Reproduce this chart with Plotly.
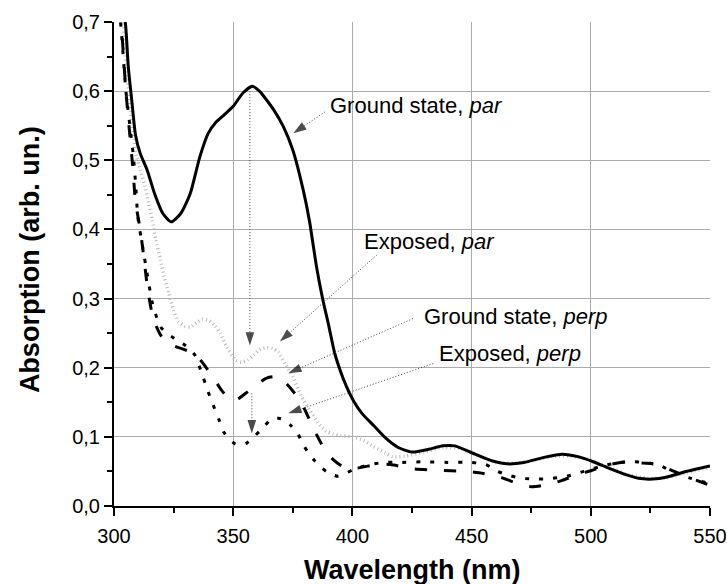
import plotly.graph_objects as go

# ---------------- data ----------------
gs_par_x = [303, 305, 306, 307.5, 309, 311, 314, 317, 320.5, 324, 328, 332, 336, 339.5, 342.5, 346, 350, 354,
            358, 361, 367, 371, 375, 379.5, 382, 385, 387.5, 390, 392.5, 395, 397.5, 400.5, 404, 409, 414, 419,
            425, 432, 438, 443, 450, 458, 465, 472, 480, 488, 495, 501, 508, 515, 520, 526, 532, 540, 550]
gs_par_y = [0.76, 0.69, 0.635, 0.585, 0.537, 0.51, 0.485, 0.452, 0.423, 0.411, 0.423, 0.452, 0.505, 0.539, 0.554,
            0.565, 0.578, 0.597, 0.607, 0.600, 0.573, 0.549, 0.515, 0.455, 0.412, 0.345, 0.300, 0.262, 0.222,
            0.195, 0.173, 0.152, 0.134, 0.116, 0.098, 0.085, 0.078, 0.082, 0.087, 0.087, 0.077, 0.066, 0.061,
            0.063, 0.07, 0.075, 0.071, 0.064, 0.054, 0.045, 0.04, 0.039, 0.042, 0.05, 0.058]

ex_par_x = [303, 306, 309.5, 311, 313, 314.5, 316, 317.5, 319.5, 321, 323, 325, 327, 329.5, 332, 335, 337, 340,
            342.5, 344.5, 347.3, 351, 353.5, 356, 358.5, 361, 364, 366.5, 369, 371.7, 375, 377.3, 379.5, 382,
            385.7, 389, 392, 395, 400, 404.6, 408.8, 413.7, 417, 422, 430, 438, 445, 452, 460, 468, 476, 485,
            492, 500, 508, 516, 524, 532, 540, 550]
ex_par_y = [0.75, 0.6, 0.505, 0.486, 0.462, 0.438, 0.414, 0.385, 0.356, 0.332, 0.308, 0.283, 0.267, 0.26, 0.259,
            0.266, 0.27, 0.268, 0.26, 0.25, 0.23, 0.211, 0.208, 0.211, 0.218, 0.226, 0.229, 0.228, 0.222, 0.206,
            0.187, 0.168, 0.153, 0.139, 0.12, 0.108, 0.104, 0.102, 0.1, 0.095, 0.086, 0.077, 0.071, 0.072, 0.078,
            0.085, 0.083, 0.074, 0.063, 0.062, 0.066, 0.072, 0.072, 0.066, 0.055, 0.045, 0.04, 0.041, 0.048, 0.056]

gs_perp_x = [301.5, 303, 305, 308, 309, 311, 312.5, 314, 316, 318, 320, 322.5, 325, 331, 336, 341.5, 345, 349,
             352, 356, 360, 364, 368, 372, 376, 379, 383, 387, 391, 396, 402, 410, 416, 425, 435, 448, 455, 462,
             468, 475, 482, 488, 495, 500, 508, 515, 522, 528, 535, 542, 550]
gs_perp_y = [0.76, 0.7, 0.6, 0.485, 0.44, 0.4, 0.36, 0.317, 0.278, 0.258, 0.245, 0.238, 0.232, 0.224, 0.212,
             0.186, 0.168, 0.153, 0.155, 0.165, 0.176, 0.185, 0.187, 0.178, 0.162, 0.147, 0.117, 0.09, 0.07,
             0.057, 0.055, 0.06, 0.06, 0.054, 0.052, 0.05, 0.047, 0.042, 0.034, 0.028, 0.031, 0.037, 0.046,
             0.051, 0.06, 0.064, 0.062, 0.06, 0.05, 0.04, 0.03]

ex_perp_x = [301, 303, 305, 308, 309, 310, 312, 314, 316, 318, 320, 325, 330, 334, 336.5, 339.5, 341.6, 344, 346,
             348.5, 350.7, 353, 355.7, 358, 361, 363.5, 366, 369, 371.7, 374, 376.7, 380, 384, 389, 394, 400, 405,
             413, 420, 430, 440, 450, 456, 461, 466, 471, 478, 484, 490, 497, 505, 512, 518, 525, 530, 535, 542, 550]
ex_perp_y = [0.76, 0.69, 0.6, 0.51, 0.469, 0.418, 0.375, 0.334, 0.295, 0.272, 0.257, 0.243, 0.232, 0.218, 0.195,
             0.165, 0.146, 0.125, 0.107, 0.097, 0.09, 0.088, 0.091, 0.098, 0.108, 0.117, 0.126, 0.127, 0.124,
             0.117, 0.107, 0.085, 0.066, 0.05, 0.043, 0.052, 0.058, 0.063, 0.063, 0.064, 0.063, 0.063, 0.06, 0.05,
             0.044, 0.04, 0.039, 0.04, 0.043, 0.05, 0.058, 0.063, 0.064, 0.062, 0.057, 0.048, 0.04, 0.032]

x_ticks = [300, 350, 400, 450, 500, 550]
y_ticks = [0.0, 0.1, 0.2, 0.3, 0.4, 0.5, 0.6, 0.7]

# labels with pointer geometry (data units): text anchor, arrow tail, arrow tip
labels = [
    dict(text="Ground state, <i>par</i>", tx=389.8, ty=0.579, x0=388.5, y0=0.570, x1=375.2, y1=0.539),
    dict(text="Exposed, <i>par</i>", tx=404.1, ty=0.382, x0=410.2, y0=0.363, x1=369.6, y1=0.238),
    dict(text="Ground state, <i>perp</i>", tx=429.1, ty=0.274, x0=425.4, y0=0.271, x1=373.1, y1=0.192),
    dict(text="Exposed, <i>perp</i>", tx=435.4, ty=0.221, x0=433.9, y0=0.206, x1=373.1, y1=0.134),
]
vertical_arrows = [
    dict(x=357.0, y0=0.600, y1=0.232),
    dict(x=357.8, y0=0.163, y1=0.105),
]

FONT = "Liberation Sans, Arial, sans-serif"

fig = go.Figure()
fig.add_trace(go.Scatter(x=ex_par_x, y=ex_par_y, mode="lines", line=dict(color="#b9b9b9", width=3.5, dash="1px,3px", shape="spline", smoothing=0.6), name="Exposed, par"))
fig.add_trace(go.Scatter(x=gs_perp_x, y=gs_perp_y, mode="lines", line=dict(color="black", width=3, dash="12px,17px", shape="spline", smoothing=0.6), name="Ground state, perp"))
fig.add_trace(go.Scatter(x=ex_perp_x, y=ex_perp_y, mode="lines", line=dict(color="black", width=3, dash="4px,10px", shape="spline", smoothing=0.6), name="Exposed, perp"))
fig.add_trace(go.Scatter(x=gs_par_x, y=gs_par_y, mode="lines", line=dict(color="black", width=3, shape="spline", smoothing=0.6), name="Ground state, par"))

arrow_line = dict(color="#444", width=1, dash="1px,2px")
arrow_marker = dict(symbol=["circle", "arrow"], size=[0, 14], angleref="previous", color="black", line=dict(width=0))
for lb in labels:
    fig.add_trace(go.Scatter(x=[lb["x0"], lb["x1"]], y=[lb["y0"], lb["y1"]], mode="lines+markers",
                             line=arrow_line, marker=arrow_marker, showlegend=False, hoverinfo="skip"))
    fig.add_annotation(x=lb["tx"], y=lb["ty"], text=lb["text"], showarrow=False, xanchor="left", yanchor="middle",
                       font=dict(family=FONT, size=22, color="black"))
for va in vertical_arrows:
    fig.add_trace(go.Scatter(x=[va["x"], va["x"]], y=[va["y0"], va["y1"]], mode="lines+markers",
                             line=arrow_line, marker=arrow_marker, showlegend=False, hoverinfo="skip"))

# axis titles
fig.add_annotation(xref="paper", yref="paper", x=0.5, y=-0.132, text="<b>Wavelength (nm)</b>", showarrow=False,
                   xanchor="center", yanchor="middle", font=dict(family=FONT, size=27, color="black"))
fig.add_annotation(xref="paper", yref="paper", x=-0.141, y=0.51, text="<b>Absorption (arb. un.)</b>", showarrow=False,
                   textangle=-90, xanchor="center", yanchor="middle", font=dict(family=FONT, size=27, color="black"))

fig.update_layout(
    width=727, height=584,
    margin=dict(l=114, r=17, t=22, b=78),
    paper_bgcolor="white", plot_bgcolor="white",
    showlegend=False,
    separators=",.",
    font=dict(family=FONT, size=20, color="black"),
)
fig.update_xaxes(range=[300, 550], tickvals=x_ticks, ticks="outside", ticklen=8, tickwidth=2, tickcolor="black",
                 showline=True, linecolor="black", linewidth=2, showgrid=True, gridcolor="#ababab", gridwidth=1,
                 zeroline=False, tickfont=dict(size=20), automargin=False, ticklabelstandoff=3,
                 minor=dict(ticks="outside", ticklen=5, tickwidth=2, tickcolor="black", dtick=25, tick0=300, showgrid=False))
fig.update_yaxes(range=[0, 0.7], tickvals=y_ticks, tickformat=".1f", ticks="outside", ticklen=8, tickwidth=2,
                 tickcolor="black", showline=True, linecolor="black", linewidth=2, showgrid=True, gridcolor="#ababab",
                 gridwidth=1, zeroline=False, tickfont=dict(size=20), automargin=False,
                 minor=dict(ticks="outside", ticklen=5, tickwidth=2, tickcolor="black", dtick=0.05, tick0=0, showgrid=False))

fig.write_html("out.html", config={"displayModeBar": False},
               post_script="document.body.style.margin='0';document.body.style.overflow='hidden';")
